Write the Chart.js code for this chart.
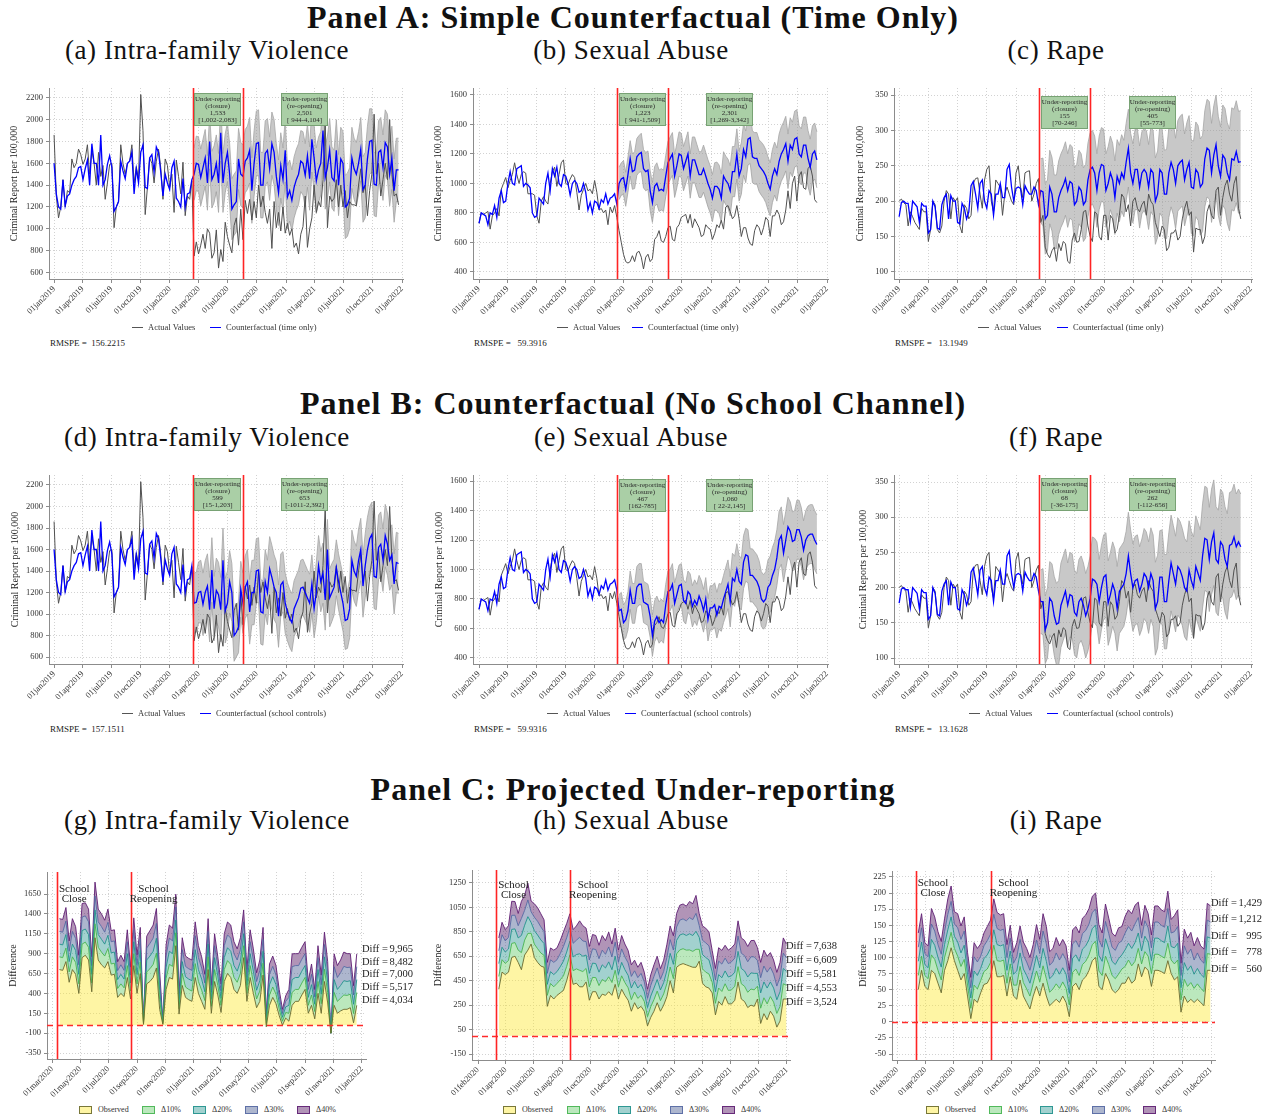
<!DOCTYPE html>
<html><head><meta charset="utf-8">
<script src="https://cdn.jsdelivr.net/npm/chart.js@4.4.1/dist/chart.umd.min.js"></script>
<style>
body{margin:0;background:#fff;}
#page{position:relative;width:1266px;height:1118px;overflow:hidden;font-family:"Liberation Serif","Times New Roman",serif;color:#111;background:#fff;}
.ptitle{position:absolute;left:0;width:1266px;text-align:center;font-weight:bold;font-size:32px;letter-spacing:1px;line-height:34px;white-space:nowrap;}
.sub{position:absolute;font-size:27px;letter-spacing:0.6px;line-height:30px;white-space:nowrap;transform:translateX(-50%);}
canvas{position:absolute;}
.li{position:absolute;height:10px;line-height:10px;font-size:8.5px;color:#333;white-space:nowrap;display:flex;align-items:center;z-index:2;}
.ln{display:inline-block;width:11px;height:0;margin-right:5px;}
.rm{position:absolute;font-size:9px;line-height:10px;color:#222;white-space:pre;z-index:2;}
.lc{position:absolute;height:10px;line-height:10px;font-size:8px;color:#333;white-space:nowrap;display:flex;align-items:center;z-index:2;}
.bx{display:inline-block;width:11px;height:6px;border:1px solid;margin-right:6px;}
</style></head>
<body><div id="page">
<div class="ptitle" style="top:0px">Panel A: Simple Counterfactual (Time Only)</div>
<div class="sub" style="left:207px;top:35px">(a) Intra-family Violence</div>
<div class="sub" style="left:631px;top:35px">(b) Sexual Abuse</div>
<div class="sub" style="left:1056px;top:35px">(c) Rape</div>
<div class="ptitle" style="top:386px">Panel B: Counterfactual (No School Channel)</div>
<div class="sub" style="left:207px;top:422px">(d) Intra-family Violence</div>
<div class="sub" style="left:631px;top:422px">(e) Sexual Abuse</div>
<div class="sub" style="left:1056px;top:422px">(f) Rape</div>
<div class="ptitle" style="top:772px">Panel C: Projected Under-reporting</div>
<div class="sub" style="left:207px;top:805px">(g) Intra-family Violence</div>
<div class="sub" style="left:631px;top:805px">(h) Sexual Abuse</div>
<div class="sub" style="left:1056px;top:805px">(i) Rape</div>

<canvas id="ca" width="420" height="245" style="left:0px;top:80px"></canvas>
<canvas id="cb" width="430" height="245" style="left:420px;top:80px"></canvas>
<canvas id="cc" width="421" height="245" style="left:845px;top:80px"></canvas>
<canvas id="cd" width="420" height="245" style="left:0px;top:467px"></canvas>
<canvas id="ce" width="430" height="245" style="left:420px;top:467px"></canvas>
<canvas id="cf" width="421" height="245" style="left:845px;top:467px"></canvas>
<canvas id="cg" width="420" height="245" style="left:0px;top:860px"></canvas>
<canvas id="ch" width="430" height="245" style="left:420px;top:860px"></canvas>
<canvas id="ci" width="421" height="245" style="left:845px;top:860px"></canvas>

<div class="li" style="left:132px;top:322px"><span class="ln" style="border-top:1px solid #555"></span>Actual Values</div>
<div class="li" style="left:210px;top:322px"><span class="ln" style="border-top:1.5px solid #0000ff"></span>Counterfactual (time only)</div>
<div class="li" style="left:557px;top:322px"><span class="ln" style="border-top:1px solid #555"></span>Actual Values</div>
<div class="li" style="left:632px;top:322px"><span class="ln" style="border-top:1.5px solid #0000ff"></span>Counterfactual (time only)</div>
<div class="li" style="left:978px;top:322px"><span class="ln" style="border-top:1px solid #555"></span>Actual Values</div>
<div class="li" style="left:1057px;top:322px"><span class="ln" style="border-top:1.5px solid #0000ff"></span>Counterfactual (time only)</div>
<div class="rm" style="left:50px;top:338px">RMSPE =  156.2215</div>
<div class="rm" style="left:474px;top:338px">RMSPE =   59.3916</div>
<div class="rm" style="left:895px;top:338px">RMSPE =   13.1949</div>

<div class="li" style="left:122px;top:708px"><span class="ln" style="border-top:1px solid #555"></span>Actual Values</div>
<div class="li" style="left:200px;top:708px"><span class="ln" style="border-top:1.5px solid #0000ff"></span>Counterfactual (school controls)</div>
<div class="li" style="left:547px;top:708px"><span class="ln" style="border-top:1px solid #555"></span>Actual Values</div>
<div class="li" style="left:625px;top:708px"><span class="ln" style="border-top:1.5px solid #0000ff"></span>Counterfactual (school controls)</div>
<div class="li" style="left:969px;top:708px"><span class="ln" style="border-top:1px solid #555"></span>Actual Values</div>
<div class="li" style="left:1047px;top:708px"><span class="ln" style="border-top:1.5px solid #0000ff"></span>Counterfactual (school controls)</div>
<div class="rm" style="left:50px;top:724px">RMSPE =  157.1511</div>
<div class="rm" style="left:474px;top:724px">RMSPE =   59.9316</div>
<div class="rm" style="left:895px;top:724px">RMSPE =   13.1628</div>

<div id="legC"></div>

<script>
// ---------------- DATA ----------------
const FIRST_WEEK = '01jan2019';
const POST_WEEK = 63;              // first weekly observation after school closure
const closureDate = '12mar2020';
const reopenDate  = '18aug2020';

const ticksXAB = ['01jan2019','01apr2019','01jul2019','01oct2019','01jan2020','01apr2020','01jul2020','01oct2020','01jan2021','01apr2021','01jul2021','01oct2021','01jan2022'];
const ticksXG  = ['01mar2020','01may2020','01jul2020','01sep2020','01nov2020','01jan2021','01mar2021','01may2021','01jul2021','01sep2021','01nov2021','01jan2022'];
const ticksXHI = ['01feb2020','01apr2020','01jun2020','01aug2020','01oct2020','01dec2020','01feb2021','01apr2021','01jun2021','01aug2021','01oct2021','01dec2021'];
const ticksYIFV  = [600,800,1000,1200,1400,1600,1800,2000,2200];
const ticksYSA   = [400,600,800,1000,1200,1400,1600];
const ticksYRape = [100,150,200,250,300,350];
const ticksYG = [-350,-100,150,400,650,900,1150,1400,1650];
const ticksYH = [-150,50,250,450,650,850,1050,1250];
const ticksYI = [-50,-25,0,25,50,75,100,125,150,175,200,225];

// Intra-family violence (weekly, from 01jan2019)
const actualIFV = [1860,1300,1100,1200,1450,1200,1350,1330,1640,1560,1600,1730,1680,1590,1640,1770,1500,1720,1600,1400,1700,1480,1580,1270,1420,1590,1600,1010,1200,1250,1770,1600,1500,1600,1620,1770,1420,1570,1450,2230,1900,1130,1380,1650,1600,1420,1620,1730,1560,1270,1640,1580,1380,1500,1150,1630,1480,1320,1610,1120,1300,1270,1440,
 750,880,770,850,950,820,1000,960,730,780,990,640,810,700,1060,930,850,780,1030,1100,850,1180,900,1260,1140,1270,1080,1250,1100,1400,1200,1300,1150,1050,1180,820,1250,1010,1150,980,1200,960,1050,940,1000,830,870,770,950,1020,1300,830,1000,1100,1400,1150,1250,1200,1450,2000,1010,1300,1250,1280,1450,1200,1400,1200,1350,1100,1250,1220,1220,1210,1400,1550,1330,1400,1120,1350,1500,2050,1500,1600,1300,1450,1600,1450,2000,1500,1300,1320,1220];
const cfPreIFV = [1600,1320,1200,1180,1450,1210,1300,1320,1400,1450,1480,1560,1570,1450,1550,1630,1400,1780,1600,1600,1400,1860,1400,1450,1590,1670,1560,1160,1200,1250,1620,1530,1460,1600,1620,1700,1320,1550,1420,1700,1770,1380,1370,1650,1680,1520,1750,1700,1520,1300,1500,1420,1360,1560,1620,1280,1250,1200,1460,1200,1320,1330,1450];
const cfTimeIFV = [1500,1600,1590,1470,1560,1650,1420,1800,1450,1500,1600,1420,1880,1420,1600,1700,1500,1180,1220,1250,1640,1500,1480,1620,1650,1720,1350,1600,1780,1790,1400,1400,1690,1720,1550,1780,1700,1480,1330,1580,1450,1720,1290,1350,1260,1380,1450,1500,1620,1600,1490,1670,1460,1820,1650,1440,1540,1600,1900,1470,1560,1720,1470,1440,1720,1400,1640,1600,1200,1220,1280,1650,1550,1500,1600,1730,1360,1400,1640,1800,1810,1410,1400,1700,1720,1560,1790,1750,1500,1650,1350,1540,1540];
const bandTimeIFV = [240,250,250,260,260,260,250,250,260,260,260,270,260,270,270,270,280,280,280,280,280,290,290,290,290,300,300,300,300,300,300,300,300,290,290,290,300,300,300,300,290,290,290,280,280,280,280,280,280,290,290,290,290,300,300,300,300,290,290,290,290,290,280,280,280,280,290,290,290,290,280,280,280,290,290,290,300,300,300,300,290,290,290,290,300,300,300,300,290,290,290,290,290];
const cfSchoolIFV = [1100,1110,1200,1210,1090,1200,1260,1040,1410,1050,1220,1180,1040,1500,1030,1100,1300,1200,800,830,880,1230,1100,1250,1300,1020,1200,1200,1400,1410,1020,1010,1300,1200,1420,1340,1250,1200,980,1270,1300,1100,1020,960,920,1050,1100,1150,1240,1250,1200,1150,1100,1280,1050,1200,1450,1300,1380,1130,1600,1150,1200,1250,1430,1300,1200,1100,940,950,1050,1500,1400,1350,1500,1600,1260,1450,1600,1700,1740,1350,1340,1620,1650,1500,1730,1650,1500,1550,1280,1480,1470];
const bandSchoolIFV = [280,280,285,290,290,295,300,300,300,300,300,300,300,300,300,300,290,270,240,230,240,260,280,290,300,300,300,300,300,300,300,300,300,300,300,300,300,290,290,290,280,280,270,270,270,260,260,260,260,260,260,260,270,270,270,280,280,280,280,280,280,270,270,260,260,260,260,260,270,270,270,280,280,280,290,290,290,300,300,300,300,300,300,300,300,290,290,290,280,280,280,280,280];

// Sexual abuse
const actualSA = [730,800,790,800,810,690,780,800,830,780,960,1000,1040,970,1020,1060,1140,1060,1000,1060,1080,1070,930,930,930,920,780,730,880,910,880,860,1000,1080,1110,980,1060,1140,1160,1000,990,1030,1060,1040,940,820,920,960,1000,950,960,930,1020,940,820,830,800,820,720,840,800,850,770,
 680,600,520,470,460,470,510,470,530,540,500,420,500,520,470,490,620,640,680,610,600,640,700,710,620,610,700,720,770,780,790,730,790,700,760,730,700,640,650,720,700,690,620,660,720,700,750,690,840,850,810,760,780,850,760,640,700,700,630,590,580,680,720,700,650,700,770,750,640,780,780,820,790,720,740,820,950,830,1000,1050,880,1050,1080,970,960,1100,1120,1050,890,870];
const cfPreSA = [730,800,790,780,720,800,790,850,770,900,950,870,880,1000,1080,1000,990,1100,1110,1120,980,1000,990,970,800,770,780,900,880,860,1000,1070,950,1100,1050,1110,1000,980,1060,1050,1000,920,1000,1020,1000,940,950,1000,940,820,870,800,880,870,830,890,870,930,860,900,910,930,860];
const cfTimeSA = [1000,1030,1040,960,1060,1170,1080,1090,1180,1200,1210,1100,1080,1090,950,870,980,1000,950,960,950,1050,1140,1170,1200,1050,1120,1200,1190,1100,1150,1200,1050,1160,1160,1110,1060,1060,1100,1050,1000,960,900,980,980,960,900,1050,1020,1000,950,1080,1080,1200,1050,1100,1230,1180,1300,1310,1180,1170,1170,1120,1100,1080,1050,1000,960,1050,1100,1060,1150,1200,1230,1270,1150,1260,1230,1300,1310,1200,1180,1260,1260,1170,1110,1200,1220,1160];
const bandTimeSA = [110,110,115,115,120,120,120,125,125,125,130,130,130,130,135,135,135,140,140,140,140,140,145,145,145,145,150,150,150,150,150,150,150,155,155,155,155,155,160,160,160,160,160,160,165,165,165,165,165,165,170,170,170,170,170,175,175,175,175,175,175,175,175,175,180,180,180,180,180,180,180,180,185,185,185,185,185,185,185,190,190,190,190,190,190,190,190,190,190,190];
const cfSchoolSA = [720,730,640,660,720,860,770,770,880,900,900,780,770,760,680,550,650,680,640,660,640,760,850,860,900,770,830,890,900,790,770,850,830,750,790,760,820,780,720,800,660,740,740,760,690,750,740,800,850,900,780,940,920,1000,920,900,1050,1100,1090,960,960,940,920,880,800,780,800,880,900,960,1000,1080,1200,1230,1110,1200,1290,1260,1190,1200,1270,1270,1220,1130,1200,1230,1240,1240,1200,1170];
const bandSchoolSA = [110,115,120,125,130,130,135,135,140,140,140,140,140,140,140,140,140,140,140,140,140,140,140,140,140,140,140,140,140,140,140,140,140,140,140,140,140,145,145,145,145,150,150,150,155,155,160,160,165,165,170,170,170,175,175,175,180,180,180,180,180,180,180,180,185,185,185,185,190,190,190,190,195,195,195,195,200,200,200,200,200,200,200,200,200,200,200,200,200,200];

// Rape
const actualRape = [200,203,198,195,165,185,178,170,165,160,190,185,185,143,160,200,195,160,155,165,200,215,210,175,205,200,205,165,155,195,190,175,180,225,232,233,210,190,230,245,250,200,185,230,225,220,180,210,220,210,200,195,240,250,220,205,240,242,243,200,210,225,232,
 170,180,135,125,120,130,135,115,140,130,143,140,115,112,145,155,142,143,160,185,187,165,150,143,185,182,150,145,180,180,145,180,175,155,160,180,210,205,185,195,165,200,205,190,185,195,200,180,210,200,195,170,160,150,165,160,130,135,155,155,160,145,150,175,190,200,180,185,128,162,160,160,140,150,185,195,180,175,215,220,180,205,222,230,210,200,225,235,190,175];
const cfPreRape = [178,198,200,197,197,172,200,196,192,170,197,193,193,155,160,200,192,162,160,195,205,210,175,208,200,200,170,168,197,190,175,185,222,228,210,190,225,230,200,190,215,210,180,210,210,225,205,205,245,252,220,200,218,220,218,195,222,215,210,210,220,215,195];
const cfTimeRape = [215,213,175,180,220,210,185,185,205,215,222,232,215,228,225,195,200,220,215,195,200,230,245,248,240,215,240,252,250,215,225,240,230,205,235,225,240,232,255,275,240,225,245,245,220,240,245,240,220,245,240,200,210,245,240,210,210,240,255,245,225,250,255,258,230,245,255,220,218,245,240,220,225,260,275,272,240,265,280,250,235,265,260,240,230,260,258,270,255,256];
const bandTimeRape = [45,48,50,50,52,52,52,52,52,52,52,52,52,52,52,52,52,52,52,52,52,52,52,52,52,52,52,52,52,52,52,52,52,52,52,54,54,54,55,55,56,56,57,57,58,58,58,60,60,60,60,61,61,62,62,62,63,63,63,64,64,64,65,65,65,66,66,66,67,67,67,68,68,68,69,69,70,70,70,70,70,71,71,71,72,72,72,72,72,72];
const cfSchoolRape = [180,180,140,150,185,180,160,148,150,175,185,195,175,190,188,165,160,180,185,175,160,170,185,212,210,205,180,200,215,218,178,190,205,195,170,195,200,205,220,245,220,200,210,212,195,205,220,215,200,220,210,170,180,215,215,180,180,210,235,220,205,230,225,215,200,195,225,210,200,230,220,210,245,270,268,240,265,278,240,235,265,260,240,230,260,262,272,258,265,258];
const bandSchoolRape = [45,47,48,50,52,54,56,58,60,60,60,60,60,60,60,60,60,60,60,60,60,60,60,60,60,60,60,60,60,60,60,60,60,60,60,60,60,60,60,62,62,62,63,63,63,64,64,64,65,65,65,66,66,66,67,67,67,68,68,68,68,69,69,69,70,70,70,70,72,72,72,72,74,74,74,74,75,75,75,75,75,75,75,75,75,75,75,75,75,75];

// Panel C: observed difference and width of each +10% layer (weekly, from closure)
const obsIFV = [700,690,800,540,700,640,400,850,880,820,420,1100,820,760,720,800,630,640,350,400,360,600,330,750,400,650,10,520,550,600,720,200,10,450,600,580,1000,140,500,350,320,300,600,400,300,200,700,150,550,380,160,550,650,600,450,400,500,850,300,600,400,220,300,630,-20,250,350,270,120,0,90,50,250,300,300,380,450,150,250,80,400,150,550,280,-100,250,150,180,200,200,220,30,250];
const stepIFV = [160,160,170,130,160,150,120,170,165,160,110,175,160,160,150,165,140,140,112,120,110,150,100,150,120,145,10,150,160,165,187,120,10,140,165,160,162,65,150,130,130,130,175,150,140,110,160,88,150,120,90,150,162,165,150,140,150,150,100,150,140,110,130,150,42,130,130,120,82,50,70,100,162,150,150,150,150,100,130,92,150,120,155,130,0,162,150,160,180,175,170,117,162];
const obsSA = [380,520,500,520,640,650,600,540,660,700,750,640,600,570,560,240,330,300,330,350,370,450,550,420,430,400,400,440,290,360,360,300,340,330,360,330,420,300,380,330,290,200,270,220,240,200,80,150,200,270,200,250,320,450,350,560,580,590,580,570,560,560,610,430,400,390,350,170,280,250,320,260,260,290,440,300,280,230,250,240,300,100,180,130,200,160,70,120,300,300];
const stepSA = [105,102,92,95,115,112,100,140,122,137,88,110,112,107,97,90,97,100,97,107,120,117,112,112,117,135,125,110,110,117,115,110,120,112,122,105,115,100,110,105,102,95,87,85,90,80,75,87,95,95,87,92,107,112,117,110,122,122,120,132,130,147,97,117,120,115,87,95,110,112,105,110,115,115,125,125,125,125,132,135,105,125,130,130,120,115,112,120,125,112];
const obsRape = [50,80,55,50,80,75,60,45,80,95,115,95,80,65,75,40,5,35,30,45,58,60,70,95,70,70,72,40,70,40,35,65,40,30,20,40,55,40,60,40,25,30,35,30,40,30,8,55,60,50,65,70,80,95,100,55,50,75,65,50,45,50,60,60,70,60,65,90,70,85,80,55,80,80,78,75,95,75,65,70,15,40,30,35,30,35,30,25,80,80];
const stepRape = [22,22,17,17,24,22,20,20,20,24,24,19,22,21,22,17,16,22,21,19,20,22,22,24,25,24,24,20,20,17,22,21,21,21,20,20,24,22,27,27,21,21,24,22,22,22,18,22,22,22,24,24,24,25,25,24,22,27,24,22,22,24,22,26,26,27,29,24,20,24,22,20,25,25,24,24,27,21,25,26,19,26,25,26,22,24,22,22,26,25];

const layerNames = ['Observed','\u039410%','\u039420%','\u039430%','\u039440%'];
const diffIFV  = ['9,965','8,482','7,000','5,517','4,034'];
const diffSA   = ['7,638','6,609','5,581','4,553','3,524'];
const diffRape = ['1,429','1,212','995','778','560'];

const boxIFVtime = [['1,533','[1,002-2,083]'],['2,501','[ 944-4,104]']];
const boxSAtime  = [['1,223','[ 941-1,509]'],['2,301','[1,269-3,342]']];
const boxRapetime= [['155','[70-246]'],['405','[55-773]']];
const boxIFVsch  = [['599','[15-1,203]'],['653','[-1011-2,392]']];
const boxSAsch   = [['467','[162-785]'],['1,060','[ 22-2,145]']];
const boxRapesch = [['68','[-36-175]'],['262','[-112-656]']];

// ---------------- HELPERS ----------------
const FONT = '"Liberation Serif","Times New Roman",serif';
Chart.defaults.font.family = FONT;
const MON = {jan:0,feb:1,mar:2,apr:3,may:4,jun:5,jul:6,aug:7,sep:8,oct:9,nov:10,dec:11};
const ORIGIN = Date.UTC(2019,0,1);
function dayOf(l){ return (Date.UTC(+l.slice(5), MON[l.slice(2,5)], +l.slice(0,2)) - ORIGIN)/86400000; }
function weekDay(i){ return dayOf(FIRST_WEEK) + 7*i; }
function pts(arr, off){ return arr.map((v,k)=>({x:weekDay(off+k), y:v})); }
const GRID = '#d2d2d2', AXIS = '#8c8c8c', TXT = '#333';
const vl = [dayOf(closureDate), dayOf(reopenDate)];
const DECOR = {};

const decorPlugin = {
  id:'decor',
  afterDatasetsDraw(chart){
    const o = DECOR[chart.canvas.id]; if(!o) return;
    const ctx = chart.ctx, ca = chart.chartArea, xs = chart.scales.x, ys = chart.scales.y;
    ctx.save();
    if (o.zero){
      const yy = Math.round(ys.getPixelForValue(0))+0.5;
      ctx.strokeStyle='#ff2a2a'; ctx.lineWidth=1.5; ctx.setLineDash([6,4]);
      ctx.beginPath(); ctx.moveTo(ca.left,yy); ctx.lineTo(ca.right,yy); ctx.stroke();
      ctx.setLineDash([]);
    }
    vl.forEach(d=>{
      const px = Math.round(xs.getPixelForValue(d))+0.5;
      ctx.strokeStyle='#ff2424'; ctx.lineWidth=1.6;
      ctx.beginPath(); ctx.moveTo(px,ca.top); ctx.lineTo(px,ca.bottom); ctx.stroke();
    });
    if (o.boxes){
      const heads = [['Under-reporting','(closure)'],['Under-reporting','(re-opening)']];
      o.boxes.forEach((b,i)=>{
        const cx = xs.getPixelForValue(o.boxDays[i]);
        const w=47,h=33, x0=Math.round(cx-w/2), y0=Math.round(ca.top+o.boxTop);
        ctx.fillStyle='#aacfa6'; ctx.fillRect(x0,y0,w,h);
        ctx.strokeStyle='#78a274'; ctx.lineWidth=1; ctx.strokeRect(x0+0.5,y0+0.5,w-1,h-1);
        ctx.fillStyle='#2b2b2b'; ctx.font='7px '+FONT; ctx.textAlign='center'; ctx.textBaseline='middle';
        heads[i].concat(b).forEach((t,k)=>ctx.fillText(t,cx,y0+6.5+k*6.9));
      });
    }
    if (o.school){
      ctx.fillStyle='#222'; ctx.font='11px '+FONT; ctx.textAlign='center'; ctx.textBaseline='middle';
      const x1 = xs.getPixelForValue(vl[0]), x2 = xs.getPixelForValue(vl[1]);
      const t = ca.top + o.school;
      ctx.fillText('School', x1+17, t); ctx.fillText('Close', x1+17, t+10);
      ctx.fillText('School', x2+23, t); ctx.fillText('Reopening', x2+23, t+10);
    }
    if (o.diffs){
      ctx.fillStyle='#222'; ctx.font='10.5px '+FONT; ctx.textBaseline='middle';
      o.diffs.forEach((d,k)=>{
        const y = ca.top + o.diffTop + k*o.diffGap;
        ctx.textAlign='left'; ctx.fillText('Diff =', ca.right-4, y);
        ctx.textAlign='right'; ctx.fillText(d, ca.right+47, y);
      });
    }
    ctx.restore();
  }
};

function baseOptions(c){
  return {
    responsive:false, animation:false, devicePixelRatio:1,
    layout:{padding:{top:c.padTop,right:c.padRight,left:0,bottom:0}},
    plugins:{legend:{display:false},tooltip:{enabled:false}},
    elements:{point:{radius:0},line:{tension:0}},
    scales:{
      x:{type:'linear',min:c.xmin,max:c.xmax,
        afterBuildTicks:s=>{s.ticks=c.xticks.map(t=>({value:dayOf(t)}));},
        afterFit:s=>{s.height=c.xH;s.paddingLeft=0;s.paddingRight=0;},
        ticks:{autoSkip:false,minRotation:45,maxRotation:45,padding:1,color:TXT,font:{size:8.5},callback:(v,i)=>c.xticks[i]},
        grid:{color:GRID,lineWidth:1,tickLength:4,tickColor:AXIS,tickBorderDash:[]},
        border:{display:true,color:AXIS,width:1,dash:[1,2]}
      },
      y:{type:'linear',min:c.ymin,max:c.ymax,stacked:c.stacked||false,
        afterBuildTicks:s=>{s.ticks=c.yticks.map(v=>({value:v}));},
        afterFit:s=>{s.width=c.yW;s.paddingTop=0;s.paddingBottom=0;},
        ticks:{padding:3,color:TXT,font:{size:8.5},callback:v=>String(v)},
        title:{display:true,text:c.ytitle,color:'#222',font:{size:10},padding:{top:c.tPad,bottom:0}},
        grid:{color:GRID,lineWidth:1,tickLength:3,tickColor:AXIS,tickBorderDash:[]},
        border:{display:true,color:AXIS,width:1,dash:[1,2]}
      }
    }
  };
}

function abChart(id, c){
  const cfAll = c.cfPre.concat(c.cfPost);
  const hi = c.cfPost.map((v,k)=>v + c.band[k]);
  const lo = c.cfPost.map((v,k)=>v - c.band[k]);
  DECOR[id] = {boxes:c.boxes, boxDays:[dayOf('30may2020'),dayOf('28feb2021')], boxTop:c.boxTop};
  new Chart(document.getElementById(id), {
    type:'line',
    data:{datasets:[
      {data:pts(cfAll,0), borderColor:'#0000ff', borderWidth:1.3, fill:false},
      {data:pts(c.actual,0), borderColor:'#505050', borderWidth:1, fill:false},
      {data:pts(hi,POST_WEEK), borderColor:'#a6a6a6', borderWidth:0.8, backgroundColor:'rgba(150,150,150,0.52)', fill:'+1'},
      {data:pts(lo,POST_WEEK), borderColor:'#a6a6a6', borderWidth:0.8, fill:false}
    ]},
    options:baseOptions(c),
    plugins:[decorPlugin]
  });
}

const layerFill = ['rgba(253,231,37,0.42)','rgba(94,201,98,0.42)','rgba(33,145,140,0.42)','rgba(59,82,139,0.42)','rgba(68,1,84,0.42)'];
const layerLine = ['rgba(105,105,45,0.9)','rgba(70,180,80,0.9)','rgba(33,145,140,0.9)','rgba(80,100,160,0.85)','rgba(95,30,115,0.9)'];

function cChart(id, c){
  DECOR[id] = {zero:true, school:c.school, diffs:c.diffs, diffTop:c.diffTop, diffGap:c.diffGap};
  const ds = layerNames.map((n,k)=>({
    label:n, data:pts(k===0?c.obs:c.step, POST_WEEK),
    backgroundColor:layerFill[k], borderColor:layerLine[k], borderWidth:1,
    fill:k===0?'origin':'-1'
  }));
  c.stacked='single';
  new Chart(document.getElementById(id), {type:'line', data:{datasets:ds}, options:baseOptions(c), plugins:[decorPlugin]});
}

// Panel A
const ABcommon = {xticks:ticksXAB, xmax:1099, xH:46, padTop:8};
abChart('ca', Object.assign({}, ABcommon, {actual:actualIFV, cfPre:cfPreIFV, cfPost:cfTimeIFV, band:bandTimeIFV, boxes:boxIFVtime, boxTop:5,
  xmin:-16, ymin:540, ymax:2290, yticks:ticksYIFV, ytitle:'Criminal Report per 100,000', yW:49, padRight:17, tPad:8}));
abChart('cb', Object.assign({}, ABcommon, {actual:actualSA, cfPre:cfPreSA, cfPost:cfTimeSA, band:bandTimeSA, boxes:boxSAtime, boxTop:5,
  xmin:-19, ymin:352, ymax:1647, yticks:ticksYSA, ytitle:'Criminal Report per 100,000', yW:53, padRight:22, tPad:12}));
abChart('cc', Object.assign({}, ABcommon, {actual:actualRape, cfPre:cfPreRape, cfPost:cfTimeRape, band:bandTimeRape, boxes:boxRapetime, boxTop:8,
  xmin:-16, ymin:90, ymax:360, yticks:ticksYRape, ytitle:'Criminal Report per 100,000', yW:49, padRight:14, tPad:9}));
// Panel B
const BBcommon = {xticks:ticksXAB, xmax:1099, xH:48, padTop:8};
abChart('cd', Object.assign({}, BBcommon, {actual:actualIFV, cfPre:cfPreIFV, cfPost:cfSchoolIFV, band:bandSchoolIFV, boxes:boxIFVsch, boxTop:3,
  xmin:-16, ymin:535, ymax:2293, yticks:ticksYIFV, ytitle:'Criminal Report per 100,000', yW:49, padRight:17, tPad:9}));
abChart('ce', Object.assign({}, BBcommon, {actual:actualSA, cfPre:cfPreSA, cfPost:cfSchoolSA, band:bandSchoolSA, boxes:boxSAsch, boxTop:4,
  xmin:-19, ymin:359, ymax:1641, yticks:ticksYSA, ytitle:'Criminal Report per 100,000', yW:53, padRight:22, tPad:13}));
abChart('cf', Object.assign({}, BBcommon, {actual:actualRape, cfPre:cfPreRape, cfPost:cfSchoolRape, band:bandSchoolRape, boxes:boxRapesch, boxTop:3,
  xmin:-16, ymin:91.5, ymax:360, yticks:ticksYRape, ytitle:'Criminal Reports per 100,000', yW:49, padRight:14, tPad:12}));
// Panel C
cChart('cg', {obs:obsIFV, step:stepIFV, xticks:ticksXG, xmin:414, xmax:1105, ymin:-425, ymax:1927, yticks:ticksYG,
  ytitle:'Difference', yW:47, padTop:12, padRight:54, xH:46, tPad:7, school:17, diffs:diffIFV, diffTop:77, diffGap:12.8});
cChart('ch', {obs:obsSA, step:stepSA, xticks:ticksXHI, xmin:383, xmax:1071.5, ymin:-199, ymax:1356, yticks:ticksYH,
  ytitle:'Difference', yW:52, padTop:10, padRight:60, xH:45, tPad:12, school:15, diffs:diffSA, diffTop:76, diffGap:14});
cChart('ci', {obs:obsRape, step:stepRape, xticks:ticksXHI, xmin:385, xmax:1073.5, ymin:-59.3, ymax:234.3, yticks:ticksYI,
  ytitle:'Difference', yW:47, padTop:11, padRight:51, xH:45, tPad:12, school:12, diffs:diffRape, diffTop:32, diffGap:16.5});

// Panel C legends
const legStarts = [[79,142,193,245,297],[503,567,618,670,722],[926,989,1040,1092,1143]];
const legC = document.getElementById('legC');
legStarts.forEach(xs=>{
  xs.forEach((x,k)=>{
    const d = document.createElement('div');
    d.className='lc'; d.style.left=x+'px'; d.style.top='1105px';
    d.innerHTML = '<span class="bx" style="background:'+layerFill[k]+';border-color:'+layerLine[k]+'"></span>'+layerNames[k];
    legC.appendChild(d);
  });
});
</script>
</div></body></html>
